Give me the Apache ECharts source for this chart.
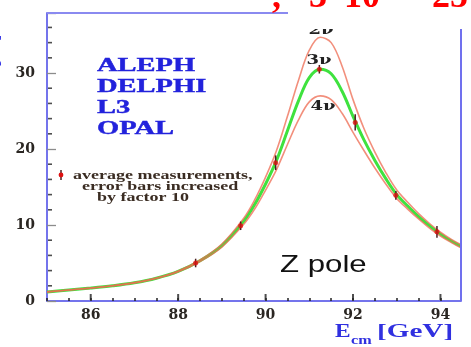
<!DOCTYPE html>
<html>
<head>
<meta charset="utf-8">
<script src="https://cdn.jsdelivr.net/npm/echarts@6/dist/echarts.min.js"></script>
<style>
  html, body { margin: 0; padding: 0; background: #ffffff; }
  #chart { width: 471px; height: 347px; }
</style>
</head>
<body>
<div id="chart"></div>
<script>
// Centre-of-mass energies (GeV) at which the lineshape curves are sampled
const energyGrid = [85.0, 85.5, 86.0, 86.5, 87.0, 87.5, 88.0, 88.5, 89.0, 89.5, 89.75, 90.0, 90.25, 90.5, 90.75,
                    91.0, 91.25, 91.5, 91.75, 92.0, 92.25, 92.5, 92.75, 93.0, 93.25, 93.5, 93.75, 94.0, 94.25, 94.47];
// Hadronic cross section (nb) for 2, 3 and 4 light neutrino species
const sigma2nu = [1.2, 1.45, 1.7, 2.0, 2.42, 3.03, 3.95, 5.4, 7.5, 10.9, 13.3, 16.3, 19.8, 24.3, 29.0,
                  33.0, 34.7, 34.0, 30.9, 26.5, 22.7, 19.6, 16.9, 14.6, 13.0, 11.5, 10.2, 9.05, 8.1, 7.4];
const sigma3nu = [1.2, 1.45, 1.7, 2.0, 2.4, 3.0, 3.9, 5.3, 7.3, 10.5, 12.7, 15.4, 18.5, 22.4, 26.3,
                  29.4, 30.5, 29.9, 27.6, 24.3, 21.2, 18.5, 16.1, 14.0, 12.5, 11.1, 9.9, 8.8, 7.9, 7.2];
const sigma4nu = [1.2, 1.45, 1.7, 2.0, 2.38, 2.97, 3.85, 5.2, 7.1, 10.1, 12.1, 14.6, 17.3, 20.6, 23.8,
                  26.2, 27.0, 26.5, 24.7, 22.2, 19.8, 17.5, 15.4, 13.5, 12.1, 10.8, 9.6, 8.55, 7.7, 7.0];

// Averaged LEP measurements (error bars enlarged by a factor of 10)
const measEnergy = [88.4, 89.43, 90.23, 91.23, 92.05, 92.98, 93.92];
const measSigma  = [5.0, 9.9, 18.2, 30.5, 23.5, 13.9, 9.1];
const measError  = [0.3, 0.3, 0.7, 0.3, 0.8, 0.3, 0.5];

// Axis ticks
const xTickLabels = [86, 88, 90, 92, 94];
const yTickLabels = [0, 10, 20, 30];
const yMinorTicks = [2, 4, 6, 8, 12, 14, 16, 18, 22, 24, 26, 28, 32, 34, 36];

const experiments = ['ALEPH', 'DELPHI', 'L3', 'OPAL'];
const legendLines = ['average measurements,', 'error bars increased', 'by factor 10'];
const curveLabels = ['2\u03bd', '3\u03bd', '4\u03bd'];

const X_MIN = 85.0, X_MAX = 94.47, Y_MIN = 0, Y_MAX = 37.9;

const pairs = (xs, ys) => xs.map((x, i) => [x, ys[i]]);

const chart = echarts.init(document.getElementById('chart'), null, { renderer: 'canvas' });

const serifBold = 'bold {S}px "Liberation Serif", "DejaVu Serif", serif';
const font = (s) => serifBold.replace('{S}', s);

const axisBlue = '#7474ec';
const tickLabelStyle = {
  fontFamily: '"DejaVu Serif", serif', fontWeight: 'bold', fontSize: 14, color: '#2a2622'
};

const graphics = [];

// Collaboration names
experiments.forEach((name, i) => {
  graphics.push({
    type: 'text', x: 97, y: 66.5 + i * 21, scaleX: 1.5, z: 100,
    style: { text: name, font: font(19), fill: '#2222dc', verticalAlign: 'middle', align: 'left',
             stroke: '#2222dc', lineWidth: 0.4 }
  });
});

// Legend for the measurements: marker with error bar plus three lines of text
graphics.push({ type: 'line', z: 100, shape: { x1: 61, y1: 170, x2: 61, y2: 180 },
  style: { stroke: '#4a2020', lineWidth: 1.5 } });
graphics.push({ type: 'circle', z: 101, shape: { cx: 61, cy: 175, r: 2.4 }, style: { fill: '#dd1111' } });
const legendX = [73, 82, 97];
legendLines.forEach((t, i) => {
  graphics.push({
    type: 'text', x: legendX[i], y: 176 + i * 11, scaleX: 1.5, z: 100,
    style: { text: t, font: font(12), fill: '#3a2c22', verticalAlign: 'middle', align: 'left' }
  });
});

// Neutrino-number labels on the curves
const curveLabelPos = [[321, 31], [319, 61], [323, 107]];
curveLabels.forEach((t, i) => {
  graphics.push({
    type: 'text', x: curveLabelPos[i][0], y: curveLabelPos[i][1], scaleX: 1.5, z: 100,
    style: { text: t, font: 'bold 12px "DejaVu Serif", serif', fill: '#222222',
             verticalAlign: 'middle', align: 'center' }
  });
});

// "Z pole" annotation
graphics.push({
  type: 'text', x: 280, y: 265.6, scaleX: 1.3, z: 100,
  style: { text: 'Z pole', font: '24px "Liberation Sans", Arial, sans-serif', fill: '#111111',
           verticalAlign: 'middle', align: 'left' }
});

// x-axis title: E_cm [GeV]
graphics.push({ type: 'text', x: 335, y: 332, scaleX: 1.3, z: 100,
  style: { text: 'E', font: font(18), fill: '#3030e0', verticalAlign: 'middle', align: 'left' } });
graphics.push({ type: 'text', x: 351, y: 341, scaleX: 1.35, z: 100,
  style: { text: 'cm', font: font(12), fill: '#3030e0', verticalAlign: 'middle', align: 'left' } });
graphics.push({ type: 'text', x: 377, y: 332, scaleX: 1.62, z: 100,
  style: { text: '[GeV]', font: font(18), fill: '#3030e0', verticalAlign: 'middle', align: 'left' } });

// y-axis title, mostly beyond the left edge
graphics.push({ type: 'text', x: -7, y: 58, rotation: Math.PI / 2, z: 100,
  style: { text: '\u03c3 [nb]', font: font(18), fill: '#3a3ae6', verticalAlign: 'middle', align: 'center' } });

// Frame: top edge and right edge
graphics.push({ type: 'line', z: 99, shape: { x1: 47, y1: 13, x2: 288, y2: 13 },
  style: { stroke: '#8a8af0', lineWidth: 2 } });
graphics.push({ type: 'line', z: 99, shape: { x1: 461, y1: 29, x2: 461, y2: 301 },
  style: { stroke: '#7070ee', lineWidth: 2 } });

// White band over the upper right corner
graphics.push({ type: 'rect', z: 102, shape: { x: 289, y: 0, width: 182, height: 29 },
  style: { fill: '#ffffff' } });

// Red heading, cut by the top edge
const headPieces = [[',', 272], ['3', 309], ['10', 344], ['-', 412], ['25', 432]];
headPieces.forEach(([t, x]) => {
  graphics.push({ type: 'text', x: x, y: -2, z: 103,
    style: { text: t, font: font(36), fill: '#ff0000', verticalAlign: 'middle', align: 'left' } });
});

// Longer inward marks at the labelled energies
const xMajorTicks = {
  type: 'scatter', z: 6, silent: true, clip: false,
  data: xTickLabels.map(v => [v, Y_MIN]),
  symbol: 'rect', symbolSize: [2, 6], symbolOffset: [0, -4],
  itemStyle: { color: '#222222' }
};
// Short inward marks on the cross-section axis
const yMinorMarks = {
  type: 'scatter', z: 6, silent: true, clip: false,
  data: yMinorTicks.map(v => [X_MIN, v]),
  symbol: 'rect', symbolSize: [4, 1.6], symbolOffset: [3, 0],
  itemStyle: { color: '#222222' }
};

const option = {
  animation: false,
  backgroundColor: '#ffffff',
  grid: { left: 47, right: 10, top: 13, bottom: 46, containLabel: false },
  xAxis: {
    type: 'value', min: X_MIN, max: X_MAX, interval: 0.5,
    axisLine: { show: true, onZero: false, lineStyle: { color: axisBlue, width: 2 } },
    axisTick: { show: true, inside: true, length: 3, lineStyle: { color: '#222222', width: 1.5 } },
    axisLabel: Object.assign({ customValues: xTickLabels, margin: 7 }, tickLabelStyle),
    splitLine: { show: false }
  },
  yAxis: {
    type: 'value', min: Y_MIN, max: Y_MAX, interval: 10,
    axisLine: { show: true, onZero: false, lineStyle: { color: axisBlue, width: 2 } },
    axisTick: { show: true, inside: true, length: 9, lineStyle: { color: '#8c8c8c', width: 1.3 } },
    axisLabel: Object.assign({ customValues: yTickLabels, margin: 12 }, tickLabelStyle),
    splitLine: { show: false }
  },
  series: [
    {
      name: '3nu', type: 'line', data: pairs(energyGrid, sigma3nu),
      smooth: 0.35, showSymbol: false, z: 2,
      lineStyle: { color: '#3ee23e', width: 3 }
    },
    {
      name: '2nu', type: 'line', data: pairs(energyGrid, sigma2nu),
      smooth: 0.35, showSymbol: false, z: 3,
      lineStyle: { color: 'rgba(238, 105, 80, 0.75)', width: 1.6 }
    },
    {
      name: '4nu', type: 'line', data: pairs(energyGrid, sigma4nu),
      smooth: 0.35, showSymbol: false, z: 3,
      lineStyle: { color: 'rgba(238, 105, 80, 0.75)', width: 1.6 }
    },
    {
      name: 'errors', type: 'custom', z: 4,
      data: measEnergy.map((e, i) => [e, measSigma[i], measError[i]]),
      renderItem: (params, api) => {
        const x = api.value(0), y = api.value(1), err = api.value(2);
        const lo = api.coord([x, y - err]);
        const hi = api.coord([x, y + err]);
        return {
          type: 'line',
          shape: { x1: lo[0], y1: lo[1] + 2, x2: hi[0], y2: hi[1] - 2 },
          style: { stroke: '#4a2020', lineWidth: 1.5 }
        };
      }
    },
    {
      name: 'measurements', type: 'scatter', z: 5,
      data: pairs(measEnergy, measSigma),
      symbol: 'circle', symbolSize: 5,
      itemStyle: { color: '#dd1111' }
    },
    xMajorTicks,
    yMinorMarks
  ],
  graphic: graphics
};

chart.setOption(option);
</script>
</body>
</html>
